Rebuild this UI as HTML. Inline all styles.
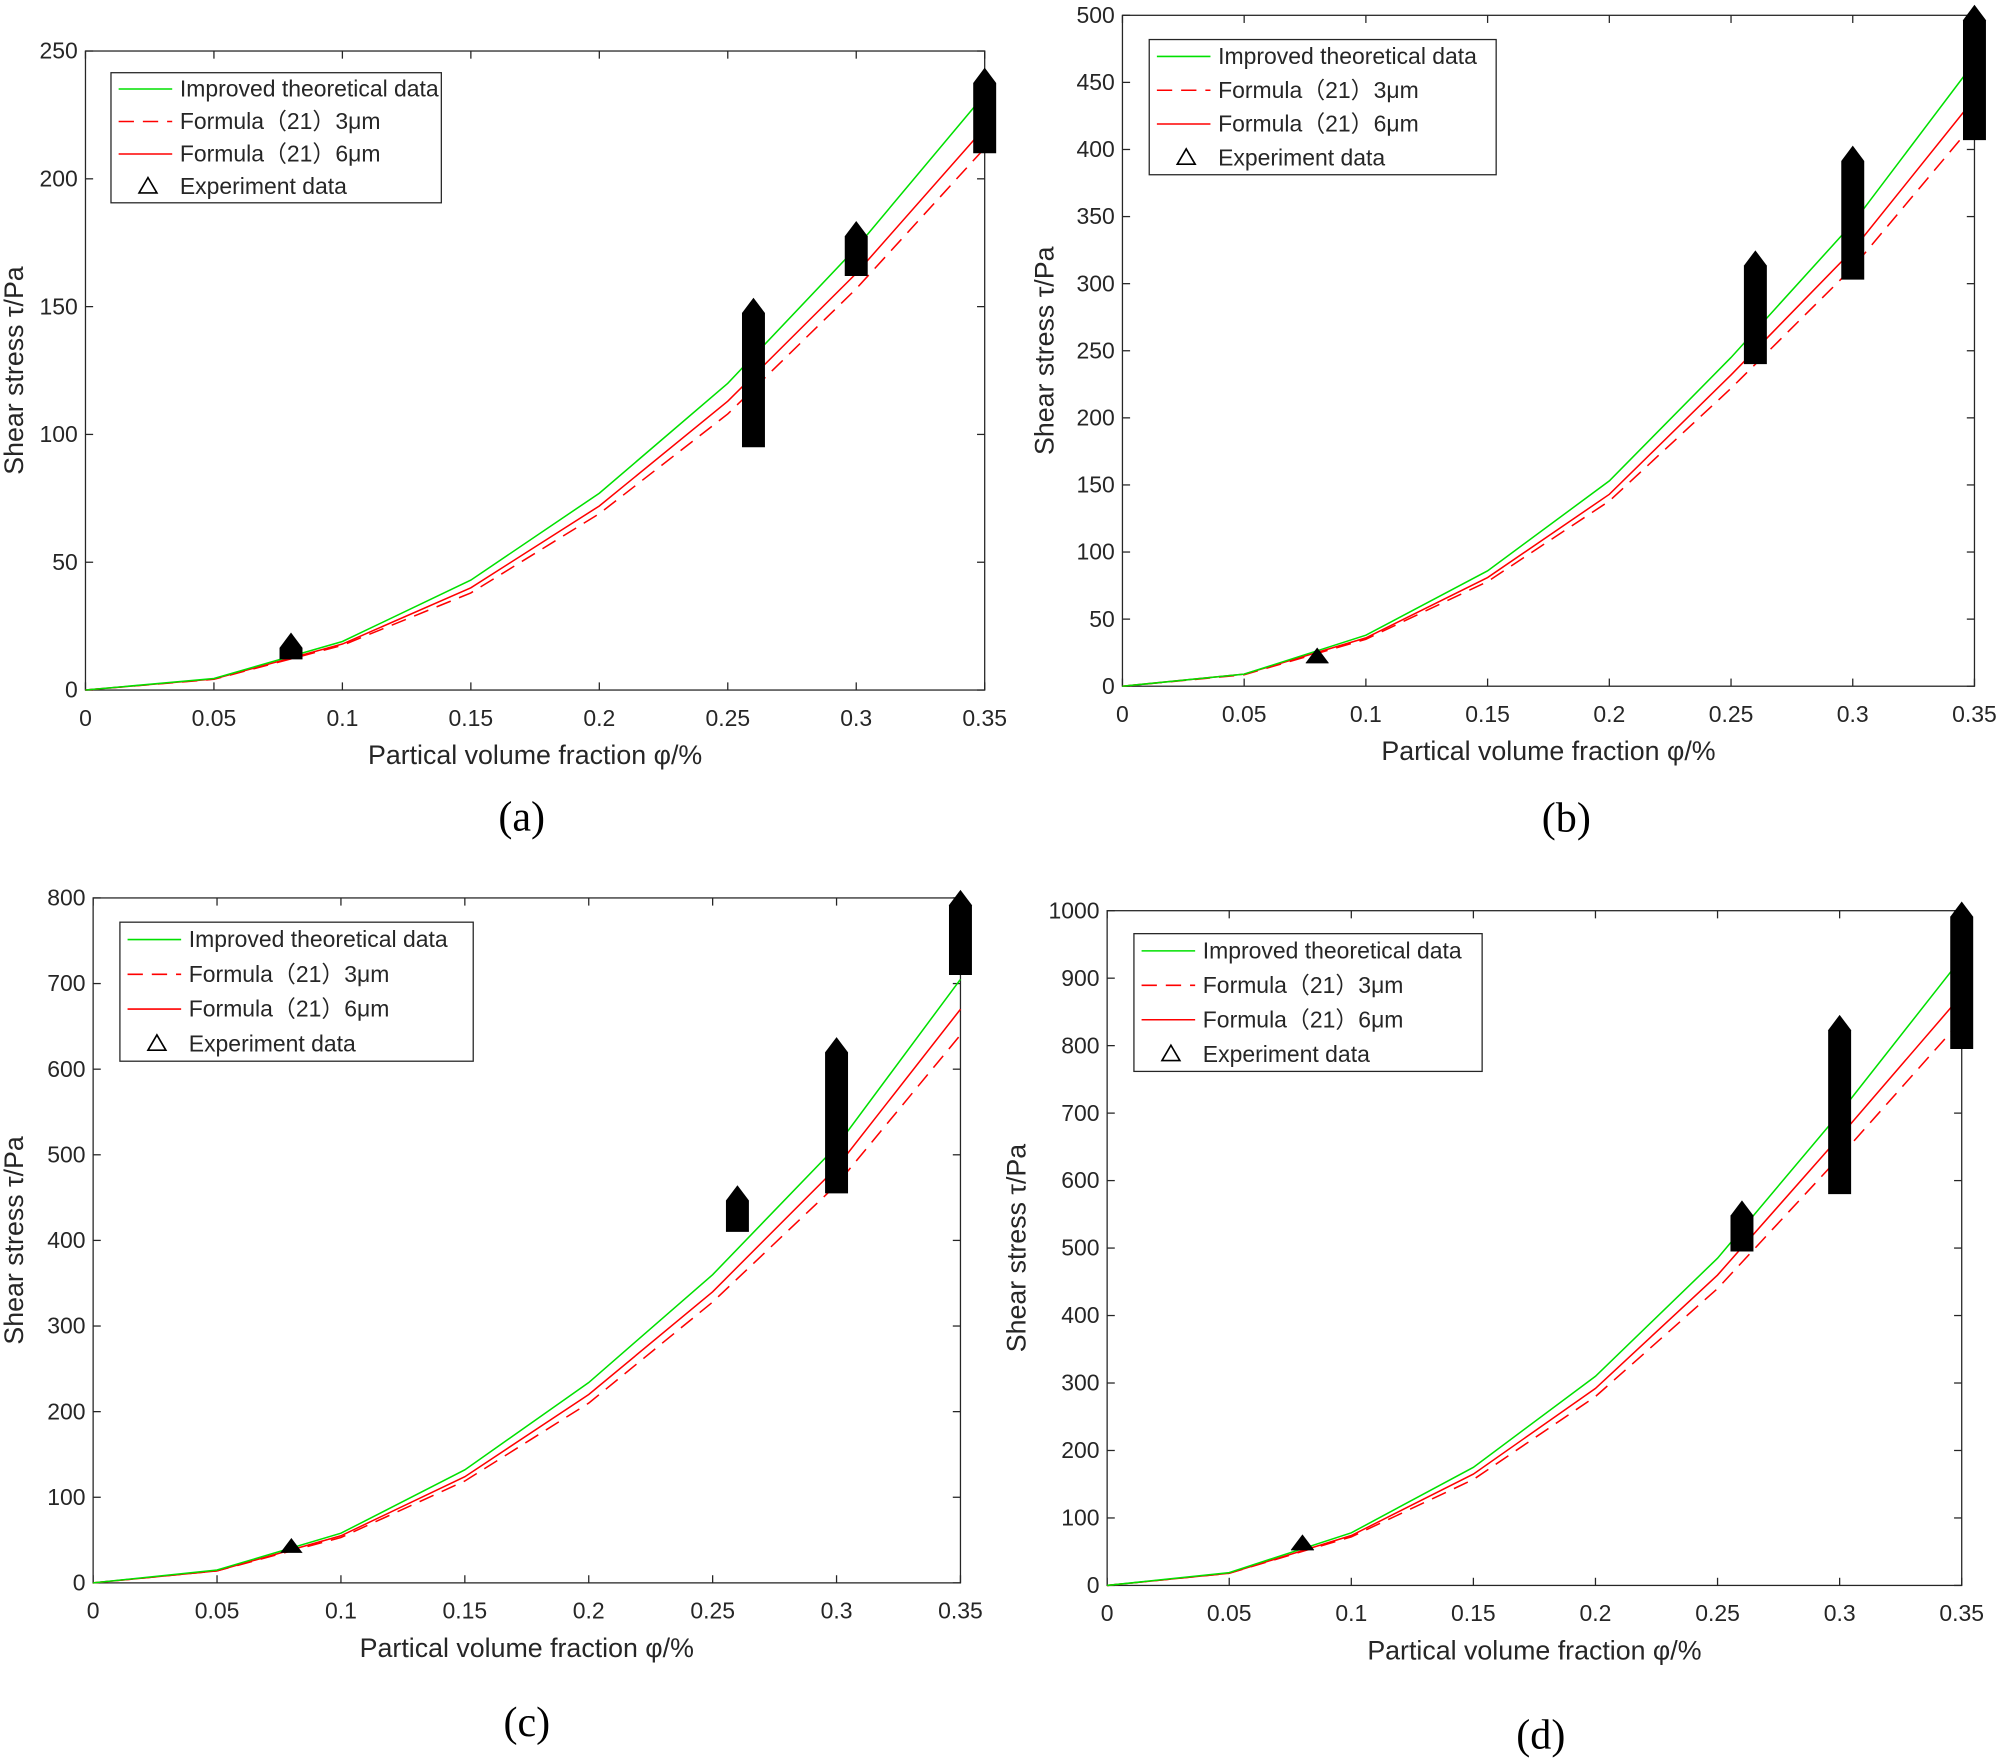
<!DOCTYPE html>
<html><head><meta charset="utf-8"><style>
html,body{margin:0;padding:0;background:#fff;}
svg{display:block;}
text{font-family:"Liberation Sans",Arial,sans-serif;fill:#262626;}
</style></head><body>
<svg id="fig" width="2000" height="1764" viewBox="0 0 1568 1383" xmlns="http://www.w3.org/2000/svg"></svg>
<script>
const xs = [0,0.05,0.1,0.15,0.2,0.25,0.3,0.35];
const xTicks = [0,0.05,0.1,0.15,0.2,0.25,0.3,0.35];
const xTickLabels = ["0","0.05","0.1","0.15","0.2","0.25","0.3","0.35"];
const expX = [0.08,0.26,0.3,0.35];

const greenA = [0,4.5,19,43,77,120,173,233];
const solidA = [0,4.3,18,40,72,113,163,220];
const dashA  = [0,4.2,17.5,38,69,108,157,212];
const expMinA = [12,95,162,210];
const expMaxA = [21,152,182,242];

const greenB = [0,9,38,86,153,245,345,465];
const solidB = [0,9,36,81,143,232,325,438];
const dashB  = [0,8.5,35,78,138,222,312,420];
const expMinB = [17,240,303,407];
const expMaxB = [26,322,400,505];

const greenC = [0,15,58,132,234,360,510,705];
const solidC = [0,14,55,124,220,340,485,670];
const dashC  = [0,14,53,119,210,328,465,640];
const expMinC = [35,410,455,710];
const expMaxC = [48,460,633,805];

const greenD = [0,19,78,175,310,485,700,930];
const solidD = [0,18,74,165,292,460,665,875];
const dashD  = [0,18,72,157,280,440,635,838];
const expMinD = [52,495,580,795];
const expMaxD = [70,565,840,1008];

const panels = [
 {id:'a',L:67,R:772,T:40,B:541,ymax:250,ystep:50,g:greenA,s:solidA,d:dashA,emin:expMinA,emax:expMaxA,leg:[87,57,346,159],ytx:10,cap:[409,640]},
 {id:'b',L:880,R:1548,T:12,B:538,ymax:500,ystep:50,g:greenB,s:solidB,d:dashB,emin:expMinB,emax:expMaxB,leg:[901,31,1173,137],ytx:818,cap:[1228,641]},
 {id:'c',L:73,R:753,T:704,B:1241,ymax:800,ystep:100,g:greenC,s:solidC,d:dashC,emin:expMinC,emax:expMaxC,leg:[94,723,371,832],ytx:10,cap:[413,1350]},
 {id:'d',L:868,R:1538,T:714,B:1243,ymax:1000,ystep:100,g:greenD,s:solidD,d:dashD,emin:expMinD,emax:expMaxD,leg:[889,732,1162,840],ytx:796,cap:[1208,1360]}
];
const NS='http://www.w3.org/2000/svg';
const svg=document.getElementById('fig');
function mk(tag,attrs,parent,txt){const e=document.createElementNS(NS,tag);for(const k in attrs)e.setAttribute(k,attrs[k]);if(txt!==undefined)e.textContent=txt;parent.appendChild(e);return e;}

panels.forEach(p=>{
  const g=mk('g',{},svg);
  
  
  const X=v=>p.L+(v/0.35)*(p.R-p.L);
  const Y=v=>p.B-(v/p.ymax)*(p.B-p.T);
  const frame=mk('rect',{x:p.L,y:p.T,width:p.R-p.L,height:p.B-p.T,fill:'#fff',stroke:'#262626','stroke-width':1},g);
  
  
  xTicks.forEach((t,i)=>{
    const x=X(t);
    mk('line',{x1:x,y1:p.B,x2:x,y2:p.B-6,stroke:'#262626'},g);
    mk('line',{x1:x,y1:p.T,x2:x,y2:p.T+6,stroke:'#262626'},g);
    const tl=mk('text',{x:x,y:p.B+28,'font-size':18,'text-anchor':'middle'},g,xTickLabels[i]);
    
    
  });
  for(let v=0;v<=p.ymax+1e-9;v+=p.ystep){
    const y=Y(v);
    mk('line',{x1:p.L,y1:y,x2:p.L+6,y2:y,stroke:'#262626'},g);
    mk('line',{x1:p.R,y1:y,x2:p.R-6,y2:y,stroke:'#262626'},g);
    const tl=mk('text',{x:p.L-6,y:y+6,'font-size':18,'text-anchor':'end'},g,String(v));
    
    
  }
  const xt=mk('text',{x:(p.L+p.R)/2,y:p.B+58,'font-size':21,'text-anchor':'middle'},g,'Partical volume fraction φ/%');
  
  
  const ycy=(p.T+p.B)/2;
  const yt=mk('text',{x:0,y:0,'font-size':21,'text-anchor':'middle',transform:`translate(${p.ytx+8},${ycy}) rotate(-90)`},g,'Shear stress τ/Pa');
  
  
  const pts=arr=>arr.map((v,i)=>X(xs[i])+','+Y(v)).join(' ');
  const l1=mk('polyline',{points:pts(p.d),fill:'none',stroke:'#ff0000','stroke-width':1.2,'stroke-dasharray':'12,7'},g);
  
  
  const l2=mk('polyline',{points:pts(p.s),fill:'none',stroke:'#ff0000','stroke-width':1.2},g);
  
  
  const l3=mk('polyline',{points:pts(p.g),fill:'none',stroke:'#00e000','stroke-width':1.2},g);
  
  
  expX.forEach((ex,i)=>{
    const x=X(ex),y0=Y(p.emin[i]),y1=Y(p.emax[i]);
    const w=9;
    const m=mk('path',{d:`M${x-w},${y0} L${x+w},${y0} L${x+w},${y1+9} L${x},${y1-3} L${x-w},${y1+9} Z`,fill:'#000'},g);
    
    
  });
  const [lx0,ly0,lx1,ly1]=p.leg;
  const lg=mk('g',{},g);
  
  
  mk('rect',{x:lx0,y:ly0,width:lx1-lx0,height:ly1-ly0,fill:'#fff',stroke:'#262626','stroke-width':1},lg);
  const rh=(ly1-ly0)/4;
  const labels=['Improved theoretical data','Formula（21）3μm','Formula（21）6μm','Experiment data'];
  labels.forEach((lab,i)=>{
    const cy=ly0+rh*(i+0.5);
    if(i===0) mk('line',{x1:lx0+6,y1:cy,x2:lx0+48,y2:cy,stroke:'#00e000','stroke-width':1.2},lg);
    if(i===1) mk('line',{x1:lx0+6,y1:cy,x2:lx0+48,y2:cy,stroke:'#ff0000','stroke-width':1.2,'stroke-dasharray':'12,7'},lg);
    if(i===2) mk('line',{x1:lx0+6,y1:cy,x2:lx0+48,y2:cy,stroke:'#ff0000','stroke-width':1.2},lg);
    if(i===3) mk('path',{d:`M${lx0+22},${cy+5} L${lx0+36},${cy+5} L${lx0+29},${cy-7} Z`,fill:'none',stroke:'#000','stroke-width':1.3},lg);
    const t=mk('text',{x:lx0+54,y:cy+6,'font-size':18},lg,lab);
    
    
  });
  const cap=mk('text',{x:p.cap[0],y:p.cap[1]+11,'font-size':33,'text-anchor':'middle',style:'font-family:"Liberation Serif",serif;fill:#000'},g,'('+p.id+')');
  
  
});
</script>
</body></html>
